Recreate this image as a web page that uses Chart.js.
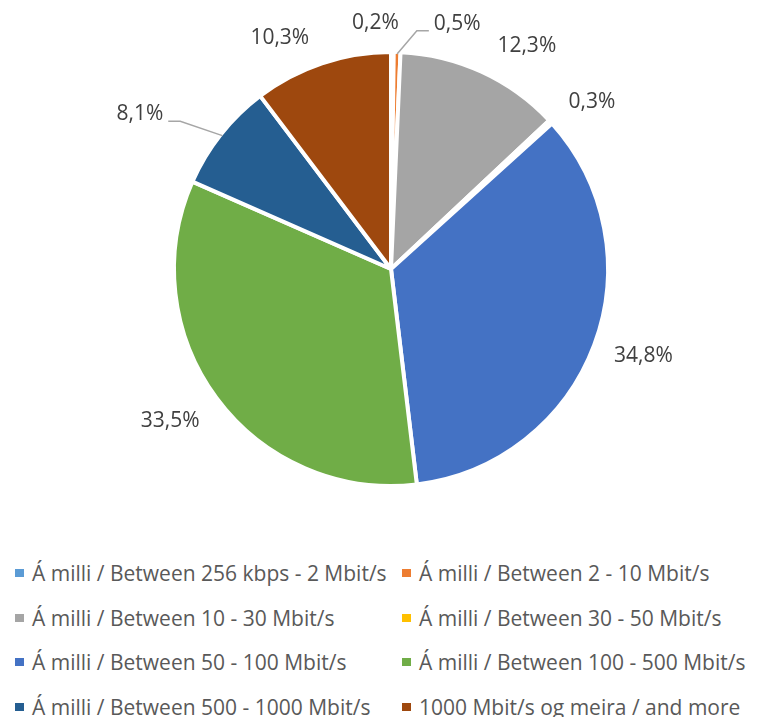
<!DOCTYPE html>
<html>
<head>
<meta charset="utf-8">
<script src="https://cdn.jsdelivr.net/npm/chart.js@4/dist/chart.umd.min.js"></script>
<style>
  html, body { margin: 0; padding: 0; background: #ffffff; }
  body { width: 757px; height: 717px; position: relative; overflow: hidden; font-family: "Open Sans", sans-serif; }
  #wrap { position: absolute; left: 0; top: 0; width: 757px; height: 540px; }
  #legend { position: absolute; left: 0; top: 558px; width: 757px; }
  .item { position: absolute; display: flex; align-items: center; white-space: nowrap;
          font-size: 21px; color: #595959; height: 30px; }
  .swatch { width: 9px; height: 8px; margin-right: 8px; flex: none; }
</style>
</head>
<body>
<div id="wrap"><canvas id="c" width="757" height="540"></canvas></div>
<div id="legend"></div>
<script>
// ---- data ----
const categories = [
  "Á milli / Between 256 kbps - 2 Mbit/s",
  "Á milli / Between 2 - 10 Mbit/s",
  "Á milli / Between 10 - 30 Mbit/s",
  "Á milli / Between 30 - 50 Mbit/s",
  "Á milli / Between 50 - 100 Mbit/s",
  "Á milli / Between 100 - 500 Mbit/s",
  "Á milli / Between 500 - 1000 Mbit/s",
  "1000 Mbit/s og meira / and more"
];
const shares = [0.2, 0.5, 12.3, 0.3, 34.8, 33.5, 8.1, 10.3];
const colors = ["#5B9BD5", "#ED7D31", "#A5A5A5", "#FFC000", "#4472C4", "#70AD47", "#255E91", "#9E480E"];

// label placement (style): angle shift in degrees, radial distance beyond the pie, leader line
const labelPlacement = [
  { da: -4,   dr: 31 },
  { da: 13.5, dr: 39, leader: true },
  { da: 6.7,  dr: 46 },
  { da: 3,    dr: 46 },
  { da: -1.5, dr: 52 },
  { da: 2,    dr: 53 },
  { da: -6.7, dr: 80, leader: true },
  { da: -7.2, dr: 41 }
];

const fmt = v => v.toFixed(1).replace('.', ',') + '%';
const LABEL_FONT = '21px "Open Sans", sans-serif';

const labelPlugin = {
  id: 'pieLabels',
  afterDatasetsDraw(chart) {
    const ctx = chart.ctx;
    const meta = chart.getDatasetMeta(0);
    const ds = chart.data.datasets[0];
    ctx.save();
    ctx.font = LABEL_FONT;
    ctx.fillStyle = '#404040';
    ctx.textBaseline = 'middle';
    ctx.textAlign = 'center';
    meta.data.forEach((arc, i) => {
      const p = arc.getProps(['x', 'y', 'startAngle', 'endAngle', 'outerRadius'], true);
      const visR = p.outerRadius - 2;
      const mid = (p.startAngle + p.endAngle) / 2;
      const pl = labelPlacement[i];
      const a = mid + pl.da * Math.PI / 180;
      const r = visR + pl.dr;
      const lx = p.x + Math.cos(a) * r;
      const ly = p.y + Math.sin(a) * r;
      const text = fmt(ds.data[i]);
      ctx.fillText(text, lx, ly);
      if (pl.leader) {
        const w = ctx.measureText(text).width;
        const sx = p.x + Math.cos(mid) * visR;
        const sy = p.y + Math.sin(mid) * visR;
        const right = sx > lx;
        const edgeX = right ? lx + w / 2 + 5 : lx - w / 2 - 5;
        const elbowX = right ? edgeX + 12 : edgeX - 12;
        const lineY = ly + 7;
        ctx.beginPath();
        ctx.strokeStyle = '#A6A6A6';
        ctx.lineWidth = 1.5;
        ctx.moveTo(edgeX, lineY);
        ctx.lineTo(elbowX, lineY);
        ctx.lineTo(sx, sy);
        ctx.stroke();
      }
    });
    ctx.restore();
  }
};

new Chart(document.getElementById('c'), {
  type: 'pie',
  data: {
    labels: categories,
    datasets: [{
      data: shares,
      backgroundColor: colors,
      borderColor: '#ffffff',
      borderWidth: 4,
      radius: 217
    }]
  },
  options: {
    responsive: false,
    animation: false,
    layout: { padding: { left: 175, right: 150, top: 52, bottom: 54 } },
    plugins: { legend: { display: false }, tooltip: { enabled: false } }
  },
  plugins: [labelPlugin]
});

// ---- legend (two columns) ----
const legend = document.getElementById('legend');
const colX = [15, 402];
const rowY = [0, 44.5, 89, 133.5];
categories.forEach((c, i) => {
  const it = document.createElement('div');
  it.className = 'item';
  it.style.left = colX[i % 2] + 'px';
  it.style.top = rowY[Math.floor(i / 2)] + 'px';
  const sw = document.createElement('span');
  sw.className = 'swatch';
  sw.style.background = colors[i];
  const tx = document.createElement('span');
  tx.textContent = c;
  it.appendChild(sw);
  it.appendChild(tx);
  legend.appendChild(it);
});
</script>
</body>
</html>
